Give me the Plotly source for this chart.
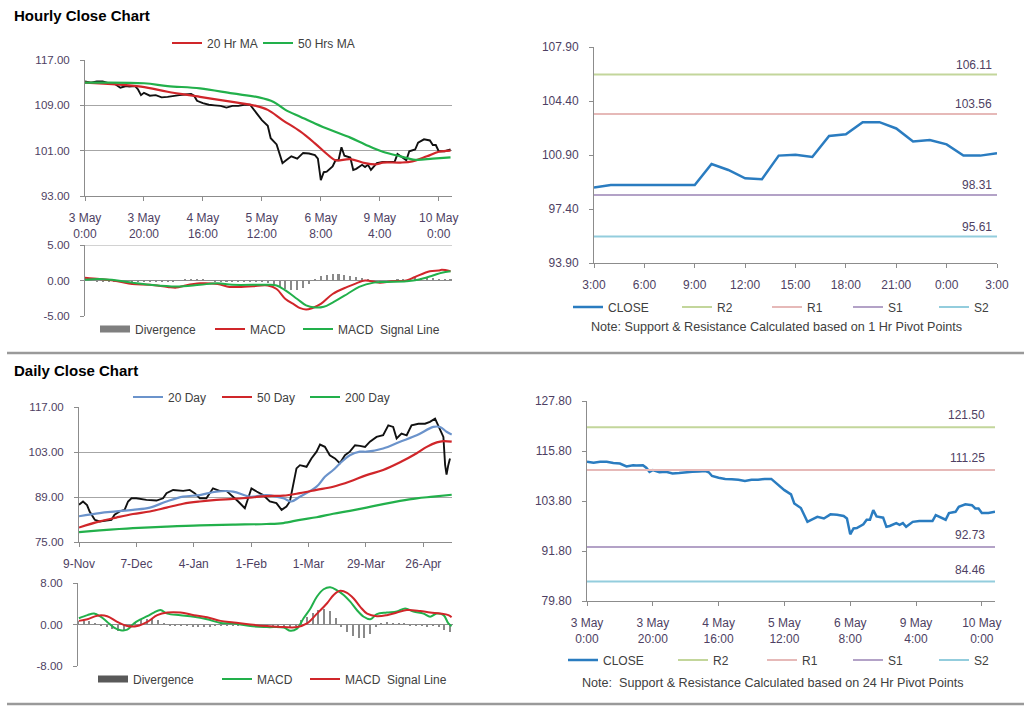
import plotly.graph_objects as go

W, H = 1024, 706


def fx(p):
    return p / W


def fy(p):
    return 1 - p / H


# ------------------------------------------------------------------ data
# hourly index (trading hours from 3 May 0:00)
hour_tick_vals = [0, 20, 40, 60, 80, 100, 120]
hour_tick_text = ["3 May<br>0:00", "3 May<br>20:00", "4 May<br>16:00", "5 May<br>12:00",
                  "6 May<br>8:00", "9 May<br>4:00", "10 May<br>0:00"]

close_hours = [0, 2, 4, 6, 8, 10, 12, 14, 15, 17, 18, 19, 20, 22, 24, 26, 28, 30, 32, 34, 36, 37,
               38, 40, 42, 44, 46, 48, 50, 52, 54, 56, 57, 59, 60, 62, 63, 65, 66, 67, 68, 70, 72,
               74, 76, 78, 79, 80, 81, 82, 84, 85, 86, 87, 88, 90, 91, 92, 94, 95, 96, 97, 99, 101,
               103, 105, 106, 107, 109, 110, 112, 113, 115, 117, 118, 119, 120, 122, 124]
close_values = [113.2, 113.0, 113.2, 113.2, 112.9, 112.8, 112.1, 112.4, 112.3, 112.4, 111.8, 110.8,
                111.2, 110.7, 110.8, 110.4, 110.5, 110.7, 110.8, 110.9, 111.0, 110.7, 109.8, 109.4,
                109.1, 109.0, 108.9, 108.6, 108.9, 108.9, 109.1, 109.1, 108.4, 107.2, 106.4, 105.4,
                103.2, 102.1, 100.4, 98.8, 99.2, 100.0, 99.6, 100.6, 100.5, 100.2, 99.6, 95.8, 97.2,
                97.3, 98.2, 99.3, 99.3, 101.6, 100.1, 99.8, 97.6, 97.8, 98.5, 98.1, 98.5, 97.6, 98.8,
                99.0, 99.0, 99.0, 100.4, 100.0, 99.3, 100.9, 101.2, 102.4, 103.0, 102.8, 102.0, 102.0,
                100.9, 100.9, 101.2]

ma20h_hours = [0, 19, 28, 39, 50, 58, 62, 67, 73, 78, 83, 85, 90, 95, 99, 101, 107, 111, 116, 120, 124]
ma20h_values = [113.0, 112.3, 111.4, 110.5, 109.6, 108.9, 108.2, 106.4, 104.4, 102.3, 100.0, 99.3,
                99.5, 98.8, 98.6, 98.9, 98.9, 99.1, 100.0, 100.8, 101.0]
ma50h_hours = [0, 20, 28, 39, 50, 59, 64, 68, 73, 78, 84, 90, 95, 101, 107, 112, 118, 124]
ma50h_values = [113.0, 112.9, 112.4, 112.0, 111.1, 110.4, 109.6, 108.2, 107.0, 105.8, 104.5, 103.3,
                102.1, 100.8, 100.0, 99.4, 99.6, 99.8]

macdh_hours = [0, 5, 11, 16, 22, 28, 31, 34, 39, 45, 49, 53, 57, 62, 65, 68, 71, 73, 75, 77, 80, 84,
               89, 92, 95, 100, 104, 109, 112, 117, 120, 121, 124]
macdh_values = [0.4, 0.2, -0.1, -0.5, -0.6, -0.9, -1.0, -0.7, -0.4, -0.5, -0.9, -0.9, -0.8, -0.7,
                -1.2, -2.6, -3.4, -3.9, -4.1, -3.9, -3.3, -1.9, -0.9, -0.4, 0.0, -0.3, -0.1, 0.0,
                0.5, 1.3, 1.4, 1.5, 1.3]
sigh_hours = [0, 5, 11, 16, 22, 31, 39, 45, 50, 62, 65, 68, 72, 75, 78, 81, 84, 89, 93, 98, 102, 109,
              113, 118, 121, 124]
sigh_values = [0.1, 0.2, 0.0, -0.3, -0.6, -0.85, -0.6, -0.4, -0.6, -0.6, -0.7, -1.4, -2.6, -3.5, -3.8,
               -3.7, -3.1, -1.9, -0.9, -0.3, -0.2, -0.1, 0.1, 0.7, 1.1, 1.3]
divh_hours = list(range(0, 125, 2))
divh_values = [0.3, 0.1, -0.1, -0.2, -0.2, -0.2, -0.2, -0.2, -0.2, -0.1, -0.1, -0.1, -0.1, -0.1,
               -0.1, -0.1, 0.05, 0.1, 0.15, 0.15, 0.1, 0.0, -0.1, -0.15, -0.2, -0.2, -0.1, -0.1,
               -0.1, -0.1, -0.2, -0.4, -0.6, -0.9, -1.2, -1.4, -1.3, -1.0, -0.5, 0.2, 0.6, 0.8,
               0.9, 0.9, 0.8, 0.6, 0.5, 0.3, 0.1, -0.1, -0.1, 0.0, 0.05, 0.1, 0.1, 0.2, 0.3, 0.4,
               0.4, 0.3, 0.2, 0.1, 0.1]

# 1 hr pivot chart
pivot1_hours = list(range(25))
pivot1_tick_vals = [0, 3, 6, 9, 12, 15, 18, 21, 24]
pivot1_tick_text = ["3:00", "6:00", "9:00", "12:00", "15:00", "18:00", "21:00", "0:00", "3:00"]
pivot1_close = [98.79, 98.96, 98.96, 98.96, 98.96, 98.96, 98.96, 100.32, 99.93, 99.39, 99.33,
                100.86, 100.92, 100.77, 102.13, 102.24, 103.03, 103.03, 102.62, 101.78, 101.87,
                101.59, 100.86, 100.86, 101.01]
pivot1_names = ["R2", "R1", "S1", "S2"]
pivot1_levels = [106.11, 103.56, 98.31, 95.61]

# 24 hr pivot chart
pivot24_names = ["R2", "R1", "S1", "S2"]
pivot24_levels = [121.50, 111.25, 92.73, 84.46]

# daily chart (trading-day index from 9-Nov)
day_tick_vals = [0, 20, 40, 60, 80, 100, 120]
day_tick_text = ["9-Nov", "7-Dec", "4-Jan", "1-Feb", "1-Mar", "29-Mar", "26-Apr"]
daily_days = [0, 1.4, 2.8, 3.7, 5.5, 7.2, 9.5, 11.3, 12.4, 14.2, 15.9, 17.1, 18.3, 20, 23.5, 27,
              29.3, 30.5, 32.8, 36.3, 38.6, 40.3, 42.1, 44.4, 46.7, 49, 51.4, 53.7, 55.5, 57.8,
              60.1, 61.9, 64.2, 66.5, 68.8, 70.6, 72.3, 73.5, 74.7, 75.8, 77, 79.3, 81, 82.8, 84,
              85.7, 87.4, 89.2, 90.9, 92.7, 94.4, 96.2, 97.9, 99.7, 101.4, 103.7, 106, 107.8,
              109.5, 110.7, 112.4, 114.2, 115.9, 118.3, 120.6, 122.3, 124.1, 125.8, 127, 127.6,
              128.1, 128.7, 129.3]
daily_close = [86.6, 87.6, 86.5, 84.5, 81.9, 81.4, 81.7, 81.9, 83.5, 84.5, 85.0, 87.6, 88.6, 88.6,
               88.1, 87.9, 88.6, 90.2, 91.2, 90.9, 91.2, 90.2, 88.6, 88.6, 91.7, 90.9, 90.9, 89.1,
               87.6, 85.5, 91.7, 90.7, 89.6, 87.6, 87.1, 85.0, 86.0, 87.6, 92.7, 97.9, 98.9, 98.4,
               101.0, 103.1, 105.3, 104.6, 102.0, 101.0, 99.5, 102.0, 103.1, 105.1, 104.9, 104.6,
               106.2, 107.7, 108.2, 111.3, 110.8, 107.2, 108.7, 108.2, 111.3, 111.8, 111.8, 112.4,
               113.4, 110.3, 107.7, 99.0, 96.0, 98.9, 101.0]
ma20d_days = [0, 7.2, 13, 18.8, 24.7, 30.5, 36.3, 42.1, 47.9, 53.7, 59.5, 65.3, 71.2, 74, 77, 82.8,
              85.7, 88.6, 91, 94.4, 97.9, 100.2, 106, 111.9, 117.7, 123.5, 125.8, 128.1, 129.9]
ma20d_values = [83.0, 84.0, 84.5, 85.0, 85.7, 87.6, 89.1, 89.6, 90.7, 90.7, 89.1, 89.6, 88.6, 87.6,
                89.1, 92.2, 95.3, 97.4, 99.5, 102.0, 103.1, 103.1, 104.1, 106.2, 108.2, 110.8,
                110.8, 109.3, 108.4]
ma50d_days = [0, 7.2, 13, 18.8, 24.7, 30.5, 36.3, 42.1, 47.9, 53.7, 59.5, 65.3, 71.2, 77, 82.8,
              88.6, 94.4, 100.2, 106, 111.9, 117.7, 121.2, 124.7, 127, 129.9]
ma50d_values = [79.5, 81.4, 82.6, 83.7, 84.5, 85.7, 86.9, 87.6, 88.1, 88.4, 88.8, 89.3, 89.4, 90.2,
                91.2, 92.2, 93.8, 95.8, 97.4, 99.8, 102.6, 104.6, 106.0, 106.4, 106.2]
ma200d_days = [0, 7.2, 18.8, 30.5, 42.1, 53.7, 65.3, 71.2, 77, 82.8, 88.6, 94.4, 100.2, 106, 111.9,
               117.7, 123.5, 129.9]
ma200d_values = [78.1, 78.6, 79.3, 79.8, 80.2, 80.4, 80.6, 80.9, 81.9, 82.7, 83.8, 84.7, 85.7, 86.8,
                 87.8, 88.6, 89.1, 89.7]

macdd_days = [0.3, 3.3, 5.6, 7.9, 10.2, 12.6, 14.9, 17.2, 19.5, 21.9, 24.2, 26.5, 28.8, 31.2, 35.8,
              40.5, 45.1, 49.8, 54.4, 60.2, 66, 71.9, 74.2, 76.5, 78.8, 81.2, 83.5, 85.8, 88.1,
              90.5, 92.8, 95.1, 97.4, 99.8, 102.1, 104.4, 107.9, 111.4, 114.3, 117.2, 120.7, 123,
              125.3, 127.7, 129.4, 130.5]
macdd_values = [1.2, 1.8, 2.1, 1.5, 0.5, -0.6, -1.1, -1.0, 0.2, 1.0, 1.6, 2.3, 2.8, 2.1, 1.8, 1.5,
                1.0, 0.3, 0.2, -0.3, -0.5, -0.6, -1.2, -0.8, 1.2, 3.1, 5.4, 6.8, 7.2, 6.6, 5.7, 4.4,
                2.8, 1.5, 1.0, 2.0, 2.3, 2.5, 3.1, 2.5, 2.1, 1.5, 2.1, 1.8, 0.2, -0.3]
sigd_days = [0.3, 3.3, 6.7, 10.2, 13.7, 17.2, 20.7, 24.2, 27.7, 31.2, 35.8, 40.5, 45.1, 49.8, 54.4,
             60.2, 66, 71.9, 76.5, 80, 83.5, 87, 89.3, 91.6, 94, 96.3, 98.6, 101, 104.4, 107.9,
             111.4, 114.9, 119.5, 123, 126.5, 129.4, 130.5]
sigd_values = [0.7, 1.0, 1.7, 1.6, 0.5, -0.3, -0.3, 0.5, 1.8, 2.3, 2.3, 1.8, 1.4, 0.7, 0.4, 0.0,
               -0.3, -0.5, -0.5, 0.2, 2.1, 4.1, 5.7, 6.5, 6.1, 5.0, 3.4, 2.1, 1.6, 1.8, 2.3, 2.8,
               2.6, 2.3, 2.1, 1.8, 1.4]
divd_days = list(range(0, 131, 2))
divd_values = [0.6, 0.7, 0.6, 0.3, -0.1, -0.5, -0.9, -1.3, -1.2, -0.5, 0.3, 0.8, 1.0, 1.0, 0.8, 0.3,
               -0.2, -0.3, -0.3, -0.3, -0.4, -0.4, -0.4, -0.4, -0.3, -0.2, -0.1, -0.1, -0.1, -0.1,
               -0.2, -0.2, -0.2, -0.2, -0.2, -0.3, -0.4, -0.6, -0.2, 0.8, 1.5, 2.2, 2.7, 3.0, 2.6,
               1.2, -0.5, -1.5, -2.2, -2.6, -2.6, -1.8, -0.4, 0.3, 0.4, 0.3, 0.3, 0.3, -0.2, -0.3,
               -0.3, -0.5, -0.3, -0.4, -1.0, -1.5]

# ------------------------------------------------------------------ style
FONT = "Liberation Sans, Arial, sans-serif"
TICKC = "#4e3f63"
TEXTC = "#404040"
GRID = "#a6a6a6"
AXIS = "#8c8c8c"
RED = "#d0262a"
GREEN = "#22b04b"
BLUE20 = "#6b93cb"
CLOSEBLUE = "#2a7cc0"
DIVC = "#8a8a8a"
LEVEL_COLORS = {"R2": "#c3d69b", "R1": "#e6b9b8", "S1": "#b3a2c7", "S2": "#93cddd"}

fig = go.Figure()
legend_layouts = {}
legend_count = [0]


def new_legend(line_start_px, y_px):
    legend_count[0] += 1
    key = "legend" if legend_count[0] == 1 else f"legend{legend_count[0]}"
    legend_layouts[key] = dict(
        x=fx(line_start_px - 5), y=fy(y_px), xref="container", yref="container",
        xanchor="left", yanchor="middle",
        orientation="h", bgcolor="rgba(0,0,0,0)", borderwidth=0,
        font=dict(family=FONT, size=12, color=TEXTC), itemclick=False,
        tracegroupgap=0,
    )
    return key


def line(xv, yv, name, color, width, ax, legend_pos=None, shape="spline"):
    kw = dict(showlegend=False)
    if legend_pos is not None:
        kw = dict(showlegend=True, legend=new_legend(*legend_pos))
    fig.add_trace(go.Scatter(x=xv, y=yv, name=name, mode="lines",
                             line=dict(color=color, width=width, shape=shape),
                             xaxis=f"x{ax}", yaxis=f"y{ax}", hoverinfo="skip", **kw))


def legend_swatch(name, color, width, legend_pos, ax):
    fig.add_trace(go.Scatter(x=[None], y=[None], name=name, mode="lines",
                             line=dict(color=color, width=width), xaxis=f"x{ax}", yaxis=f"y{ax}",
                             showlegend=True, legend=new_legend(*legend_pos)))


# Panel 1: hourly close with MAs
line(close_hours, close_values, "Close", "#111111", 1.9, 1, shape="linear")
line(ma20h_hours, ma20h_values, "20 Hr MA", RED, 2.2, 1, legend_pos=(172, 43))
line(ma50h_hours, ma50h_values, "50 Hrs MA", GREEN, 2.2, 1, legend_pos=(263, 43))

# Panel 2: hourly MACD
fig.add_trace(go.Bar(x=divh_hours, y=divh_values, width=0.7, marker=dict(color=DIVC, line=dict(width=0)),
                     xaxis="x2", yaxis="y2", showlegend=False, hoverinfo="skip"))
legend_swatch("Divergence", "#7f7f7f", 7, (100, 329), 2)
line(macdh_hours, macdh_values, "MACD", RED, 2, 2, legend_pos=(215, 329))
line(sigh_hours, sigh_values, "MACD  Signal Line", GREEN, 2, 2, legend_pos=(303, 329))

# Panel 3: 1hr pivot
line(pivot1_hours, pivot1_close, "CLOSE", CLOSEBLUE, 2.5, 3, legend_pos=(573, 307), shape="linear")
p3_leg_x = [682, 772, 853, 939]
for nm, lv, lx in zip(pivot1_names, pivot1_levels, p3_leg_x):
    line([pivot1_hours[0], pivot1_hours[-1]], [lv, lv], nm, LEVEL_COLORS[nm], 2, 3,
         legend_pos=(lx, 307), shape="linear")

# Panel 4: daily
line(daily_days, daily_close, "Close", "#111111", 1.9, 4, shape="linear")
line(ma20d_days, ma20d_values, "20 Day", BLUE20, 2.2, 4, legend_pos=(133, 397))
line(ma50d_days, ma50d_values, "50 Day", RED, 2.2, 4, legend_pos=(222, 397))
line(ma200d_days, ma200d_values, "200 Day", GREEN, 2.2, 4, legend_pos=(310, 397))

# Panel 5: daily MACD
fig.add_trace(go.Bar(x=divd_days, y=divd_values, width=0.7, marker=dict(color=DIVC, line=dict(width=0)),
                     xaxis="x5", yaxis="y5", showlegend=False, hoverinfo="skip"))
legend_swatch("Divergence", "#595959", 7, (98, 679), 5)
line(macdd_days, macdd_values, "MACD", GREEN, 2, 5, legend_pos=(222, 679))
line(sigd_days, sigd_values, "MACD  Signal Line", RED, 2, 5, legend_pos=(310, 679))

# Panel 6: 24hr pivot with hourly close
line(close_hours, close_values, "CLOSE", CLOSEBLUE, 2.5, 6, legend_pos=(568, 660), shape="linear")
p6_leg_x = [678, 767, 853, 939]
for nm, lv, lx in zip(pivot24_names, pivot24_levels, p6_leg_x):
    line([0, 124], [lv, lv], nm, LEVEL_COLORS[nm], 2, 6, legend_pos=(lx, 660), shape="linear")

# ------------------------------------------------------------------ axes
tickfont = dict(family=FONT, size=12, color=TICKC)
ytickfont = dict(family=FONT, size=11.5, color=TICKC)


def xaxis(dom, rng, tv=None, tt=None, show_labels=True, show_line=True):
    return dict(domain=[fx(dom[0]), fx(dom[1])], range=rng, tickvals=tv, ticktext=tt,
                showticklabels=show_labels, showline=show_line, linecolor=AXIS, linewidth=1,
                ticks="outside" if show_line else "", ticklen=4, tickcolor=AXIS, showgrid=False,
                zeroline=False, tickfont=tickfont, fixedrange=True, automargin=False,
                ticklabelstandoff=7)


def yaxis(dom, rng, tv, grid, anchor, font=ytickfont):
    return dict(domain=[fy(dom[1]), fy(dom[0])], range=rng, tickvals=tv,
                ticktext=[f"{v:.2f}" for v in tv],
                showline=True, linecolor=AXIS, linewidth=1, ticks="outside", ticklen=4,
                tickcolor=AXIS, showgrid=grid, gridcolor=GRID, gridwidth=1, zeroline=False,
                tickfont=font, anchor=anchor, ticklabelstandoff=8, fixedrange=True,
                automargin=False)


layout = dict(
    width=W, height=H, margin=dict(l=0, r=0, t=0, b=0, autoexpand=False),
    paper_bgcolor="white", plot_bgcolor="white",
    font=dict(family=FONT, color=TEXTC), bargap=0,
    xaxis=xaxis((85, 452), [0, 124.5], hour_tick_vals, hour_tick_text),
    yaxis=yaxis((60, 196), [93, 117], [93, 101, 109, 117], True, "x"),
    xaxis2=xaxis((85, 452), [0, 124.5], show_labels=False, show_line=False),
    yaxis2=yaxis((245, 316), [-5, 5], [-5, 0, 5], False, "x2"),
    xaxis3=xaxis((594, 997), [0, 24], pivot1_tick_vals, pivot1_tick_text),
    yaxis3=yaxis((47, 263), [93.9, 107.9], [93.9, 97.4, 100.9, 104.4, 107.9], False, "x3",
                 font=dict(family=FONT, size=12, color=TICKC)),
    xaxis4=xaxis((79, 452), [0, 130], day_tick_vals, day_tick_text),
    yaxis4=yaxis((407, 542), [75, 117], [75, 89, 103, 117], True, "x4"),
    xaxis5=xaxis((78, 453), [0, 131], show_labels=False, show_line=False),
    yaxis5=yaxis((583, 666), [-8, 8], [-8, 0, 8], True, "x5"),
    xaxis6=xaxis((587, 995), [0, 124], hour_tick_vals, hour_tick_text),
    yaxis6=yaxis((401, 601), [79.8, 127.8], [79.8, 91.8, 103.8, 115.8, 127.8], False, "x6",
                 font=dict(family=FONT, size=12, color=TICKC)),
)
for a in ("yaxis2", "yaxis5"):
    layout[a]["zeroline"] = True
    layout[a]["zerolinecolor"] = "#8c8c8c"
    layout[a]["zerolinewidth"] = 1
for k in ("xaxis", "xaxis2", "xaxis3", "xaxis4", "xaxis5", "xaxis6"):
    n = k[5:] or ""
    layout[k]["anchor"] = "y" + n
layout.update(legend_layouts)

annotations = [
    dict(text="<b>Hourly Close Chart</b>", x=fx(12), y=fy(16), xref="paper", yref="paper",
         xanchor="left", yanchor="middle", showarrow=False,
         font=dict(family=FONT, size=15, color="#000000")),
    dict(text="<b>Daily Close Chart</b>", x=fx(12), y=fy(370), xref="paper", yref="paper",
         xanchor="left", yanchor="middle", showarrow=False,
         font=dict(family=FONT, size=15, color="#000000")),
    dict(text="Note: Support & Resistance Calculated based on 1 Hr Pivot Points", x=fx(776),
         y=fy(327), xref="paper", yref="paper", xanchor="center", yanchor="middle",
         showarrow=False, font=dict(family=FONT, size=12.6, color=TEXTC)),
    dict(text="Note:  Support & Resistance Calculated based on 24 Hr Pivot Points", x=fx(773),
         y=fy(683), xref="paper", yref="paper", xanchor="center", yanchor="middle",
         showarrow=False, font=dict(family=FONT, size=12.6, color=TEXTC)),
]
for lv in pivot1_levels:
    annotations.append(dict(text=f"{lv:.2f}", x=pivot1_hours[-1], y=lv, xref="x3", yref="y3",
                            xanchor="right", yanchor="bottom", yshift=1, xshift=-3,
                            showarrow=False, font=dict(family=FONT, size=12, color=TICKC)))
for lv in pivot24_levels:
    annotations.append(dict(text=f"{lv:.2f}", x=124, y=lv, xref="x6", yref="y6",
                            xanchor="right", yanchor="bottom", yshift=3, xshift=-8,
                            showarrow=False, font=dict(family=FONT, size=12, color=TICKC)))
layout["annotations"] = annotations
layout["shapes"] = [
    dict(type="line", xref="paper", yref="paper", x0=fx(7), x1=1, y0=fy(353), y1=fy(353),
         line=dict(color="#9a9a9a", width=2.5)),
    dict(type="line", xref="paper", yref="paper", x0=fx(7), x1=1, y0=fy(704), y1=fy(704),
         line=dict(color="#9a9a9a", width=2.5)),
    # top gridline of the hourly MACD panel (the panel shows no lower gridline)
    dict(type="line", xref="x2 domain", yref="y2", x0=0, x1=1, y0=5, y1=5,
         line=dict(color=GRID, width=1), layer="below"),
]
fig.update_layout(**layout)
fig.write_html("out.html", config={"displayModeBar": False},
               post_script="document.body.style.margin='0';document.body.style.padding='0';")
